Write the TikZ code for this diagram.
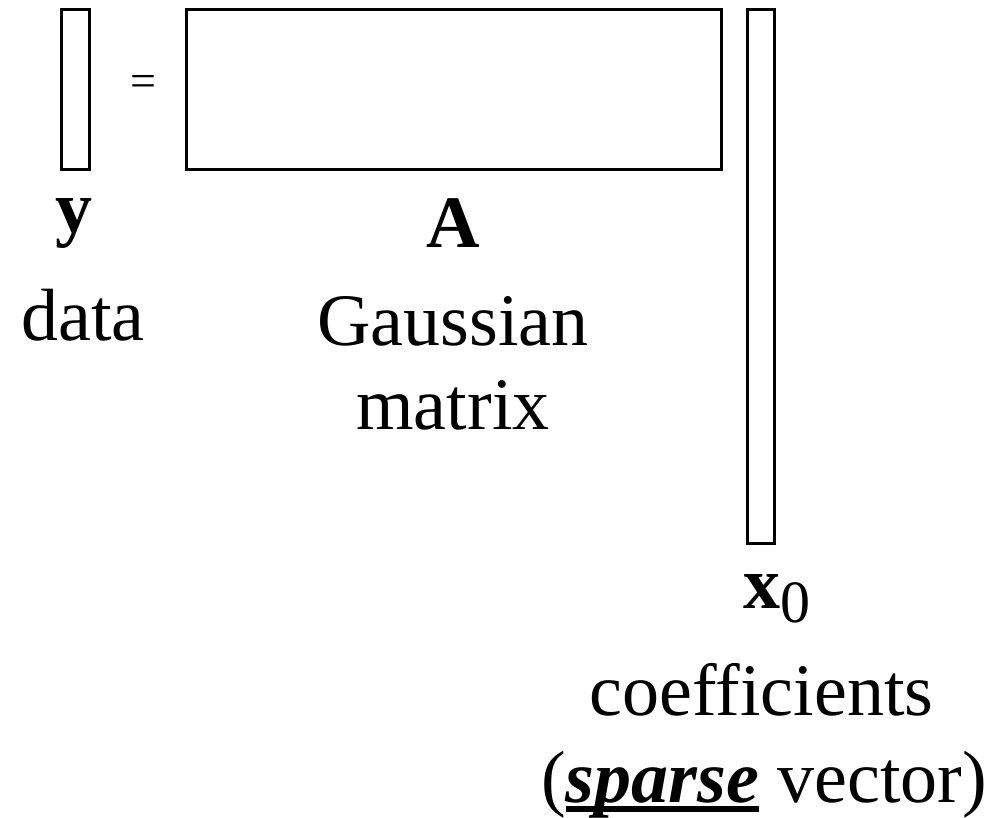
\documentclass[tikz,border=0pt]{standalone}
\usepackage{fontspec}
\setmainfont{Liberation Serif}
\newcommand\thickul[1]{\setbox0\hbox{#1}\rlap{\raisebox{-0.14em}{\rule{\wd0}{0.09em}}}\box0\relax}
\begin{document}
\begin{tikzpicture}[x=1pt,y=-1pt,
  vecbox/.style={draw,line width=3pt,inner sep=0pt,minimum width=#1},
  lbl/.style={inner sep=0pt,anchor=base,font=\fontsize{74}{85}\selectfont}]
\useasboundingbox (0,0) rectangle (990,818);
\node[vecbox=28pt,minimum height=160pt] (yv) at (75,90) {};
\node[vecbox=535pt,minimum height=160pt] (Am) at (453.5,90) {};
\node[vecbox=27pt,minimum height=533pt] (xv) at (760.5,276.5) {};
\node[inner sep=0pt,font=\fontsize{46}{50}\selectfont] (eq) at (143,86) {=};
\node[lbl] (ylab) at (74,233) {\textbf{y}};
\node[lbl] (Alab) at (453,248) {\textbf{A}};
\node[lbl] (data) at (83,340) {data};
\node[lbl] (gauss) at (453,345) {Gaussian};
\node[lbl] (matrix) at (453,429) {matrix};
\node[lbl] (xlab) at (777,608) {\textbf{x}\raisebox{-14pt}{\fontsize{60}{60}\selectfont 0}};
\node[lbl] (coef) at (761.5,715) {coefficients};
\node[lbl] (sparse) at (764,802) {(\thickul{\textbf{\textit{sparse}}} vector)};
\end{tikzpicture}
\end{document}
